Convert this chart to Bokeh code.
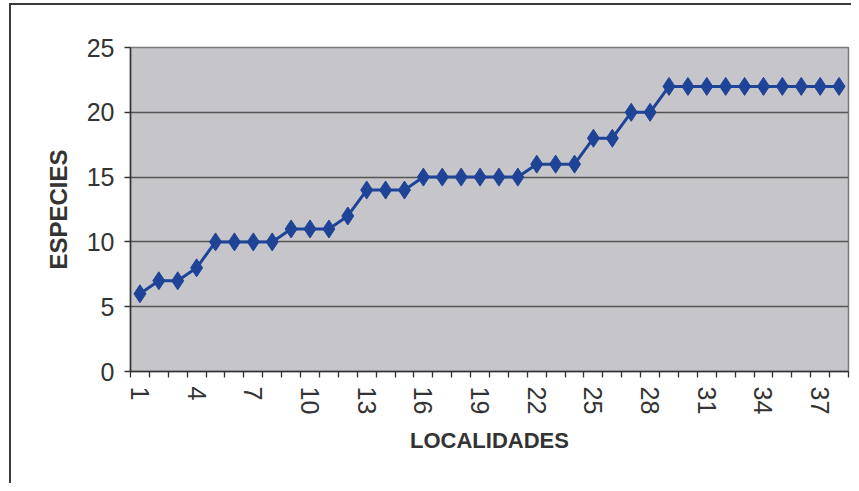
from bokeh.plotting import figure
from bokeh.models import FixedTicker, Range1d
from bokeh.embed import file_html
from bokeh.resources import INLINE

localidades = list(range(1, 39))
especies = [6, 7, 7, 8, 10, 10, 10, 10, 11, 11, 11, 12, 14, 14, 14, 15, 15, 15, 15, 15,
            15, 16, 16, 16, 18, 18, 20, 20, 22, 22, 22, 22, 22, 22, 22, 22, 22, 22]
x_tick_labels = list(range(1, 39, 3))
y_ticks = [0, 5, 10, 15, 20, 25]

FONT = "Liberation Sans"
TXT = "#333333"
FRAME = "#3a3a3a"

p = figure(width=851, height=483, output_backend="svg", toolbar_location=None,
           x_range=Range1d(0.5, len(localidades) + 0.5), y_range=Range1d(0, 25),
           min_border_left=130, min_border_right=3, min_border_top=47, min_border_bottom=112)

p.border_fill_color = None
p.background_fill_color = "#c6c6ca"
p.outline_line_color = "#7a7a7a"
p.outline_line_width = 1.5
p.styles = {
    "background": (f"linear-gradient({FRAME},{FRAME}) 9px 3px / 2px 100% no-repeat, "
                   f"linear-gradient({FRAME},{FRAME}) 9px 3px / 100% 2px no-repeat, white"),
}

p.line(localidades, especies, line_color="#1f4396", line_width=3)
p.scatter(localidades, especies, marker="diamond", size=18, fill_color="#1f4396",
          line_color="#1f4396")

# x axis
xa = p.xaxis[0]
xa.ticker = FixedTicker(ticks=x_tick_labels,
                        minor_ticks=[i + 0.5 for i in range(0, len(localidades) + 1)])
xa.major_tick_line_color = None
xa.minor_tick_in = 0
xa.minor_tick_out = 6
xa.minor_tick_line_color = TXT
xa.minor_tick_line_width = 1.3
xa.axis_line_color = TXT
xa.axis_line_width = 1.5
xa.major_label_orientation = "vertical"
xa.major_label_text_font = FONT
xa.major_label_text_font_size = "25px"
xa.major_label_text_color = TXT
xa.major_label_standoff = 9
xa.axis_label = "LOCALIDADES"
xa.axis_label_text_font = FONT
xa.axis_label_text_font_size = "22px"
xa.axis_label_text_font_style = "bold"
xa.axis_label_text_color = TXT
xa.axis_label_standoff = 11

# y axis
ya = p.yaxis[0]
ya.ticker = FixedTicker(ticks=y_ticks, minor_ticks=[])
ya.major_tick_in = 0
ya.major_tick_out = 6
ya.major_tick_line_color = TXT
ya.major_tick_line_width = 1.3
ya.axis_line_color = TXT
ya.axis_line_width = 1.5
ya.major_label_text_font = FONT
ya.major_label_text_font_size = "25px"
ya.major_label_text_color = TXT
ya.major_label_standoff = 10
ya.axis_label = "ESPECIES"
ya.axis_label_text_font = FONT
ya.axis_label_text_font_size = "24px"
ya.axis_label_text_font_style = "bold"
ya.axis_label_text_color = TXT
ya.axis_label_standoff = 12

p.xgrid.grid_line_color = None
p.ygrid.ticker = FixedTicker(ticks=y_ticks)
p.ygrid.grid_line_color = "#555555"
p.ygrid.grid_line_width = 1.3

open("out.html", "w").write(file_html(p, INLINE))
